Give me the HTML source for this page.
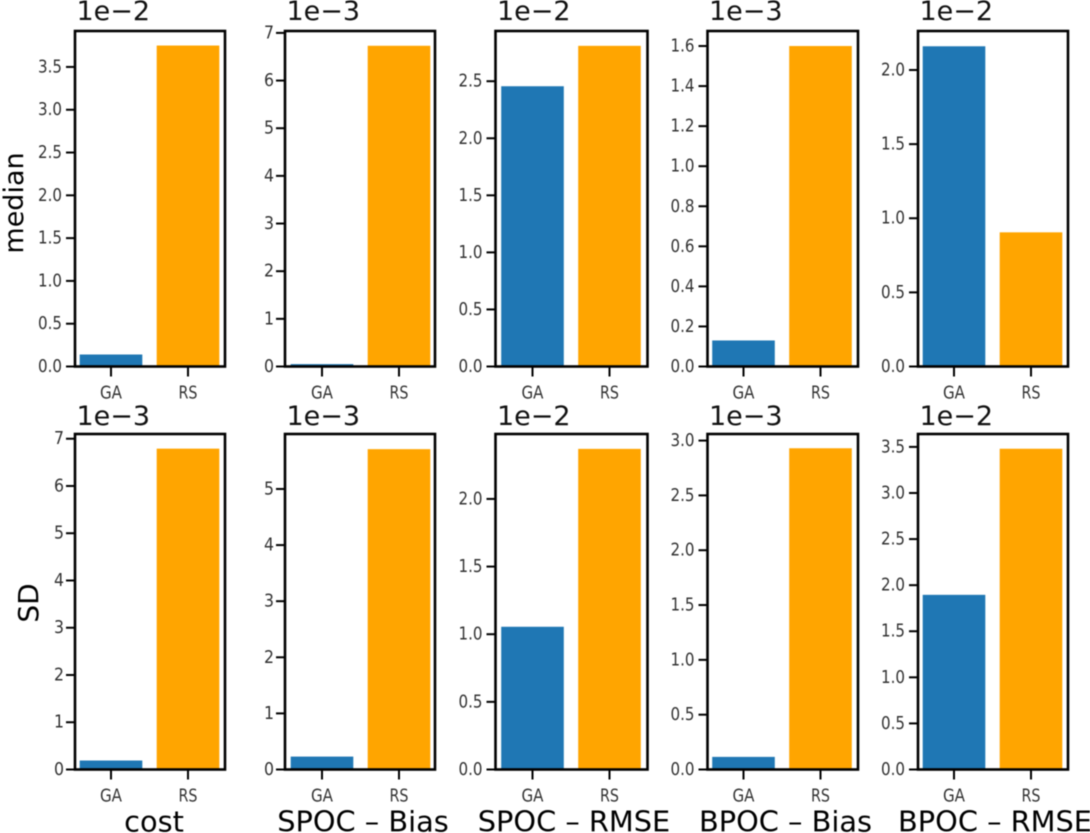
<!DOCTYPE html>
<html>
<head>
<meta charset="utf-8">
<style>
html,body{margin:0;padding:0;background:#fff;width:1090px;height:833px;overflow:hidden}
svg{display:block;filter:blur(0.4px)}
text{font-family:"DejaVu Sans","Liberation Sans",sans-serif}
</style>
</head>
<body>
<svg id="chart" width="1090" height="833" viewBox="0 0 1090 833" xmlns="http://www.w3.org/2000/svg"></svg>
<script>
const metrics = ["cost", "SPOC – Bias", "SPOC – RMSE", "BPOC – Bias", "BPOC – RMSE"];
const rowLabels = ["median", "SD"];
const categories = ["GA", "RS"];
const medianGA = [0.14, 0.05, 2.456, 0.13, 2.16];
const medianRS = [3.75, 6.73, 2.81, 1.60, 0.905];
const sdGA = [0.19, 0.23, 1.055, 0.115, 1.895];
const sdRS = [6.79, 5.71, 2.37, 2.93, 3.48];
const medianMax = [3.92, 7.04, 2.94, 1.675, 2.263];
const sdMax = [7.10, 5.98, 2.48, 3.06, 3.64];
const medianExp = ["1e−2", "1e−3", "1e−2", "1e−3", "1e−2"];
const sdExp = ["1e−3", "1e−3", "1e−2", "1e−3", "1e−2"];
const medianTicks = [
  ["0.0","0.5","1.0","1.5","2.0","2.5","3.0","3.5"],
  ["0","1","2","3","4","5","6","7"],
  ["0.0","0.5","1.0","1.5","2.0","2.5"],
  ["0.0","0.2","0.4","0.6","0.8","1.0","1.2","1.4","1.6"],
  ["0.0","0.5","1.0","1.5","2.0"]
];
const sdTicks = [
  ["0","1","2","3","4","5","6","7"],
  ["0","1","2","3","4","5"],
  ["0.0","0.5","1.0","1.5","2.0"],
  ["0.0","0.5","1.0","1.5","2.0","2.5","3.0"],
  ["0.0","0.5","1.0","1.5","2.0","2.5","3.0","3.5"]
];

const colLeft = [75, 285, 495.5, 707.5, 918];
const colRight = [225, 435, 647.5, 858, 1068];
const gaCenter = [111, 322, 532.5, 743.5, 954];
const columnTitleX = [154, 363, 574, 785.5, 995];
const rowTop = [31, 434];
const rowBottom = [366.5, 769.5];
const titleBaseline = [20, 425];
const colors = ["#1f77b4", "#ffa500"];
const svg = document.getElementById("chart");
const NS = "http://www.w3.org/2000/svg";

function make(tag, parent, attrs, txt) {
  const el = document.createElementNS(NS, tag);
  for (const k in attrs) el.setAttribute(k, attrs[k]);
  if (txt !== undefined) el.textContent = txt;
  parent.appendChild(el);
  return el;
}
function xScale(col, i) { return gaCenter[col] + i * 77; }
function yScale(row, max, v) {
  return rowBottom[row] - (v / max) * (rowBottom[row] - rowTop[row]);
}

const rowsData = [
  { ga: medianGA, rs: medianRS, max: medianMax, exp: medianExp, ticks: medianTicks },
  { ga: sdGA, rs: sdRS, max: sdMax, exp: sdExp, ticks: sdTicks }
];

rowsData.forEach(function (d, r) {
  metrics.forEach(function (m, c) {
    const g = make("g", svg, {});
    
    
    const max = d.max[c];
    const vals = [d.ga[c], d.rs[c]];

    vals.forEach(function (v, i) {
      const top = yScale(r, max, v);
      const bar = make("rect", g, {
        x: xScale(c, i) - 31.3, y: top, width: 62.6,
        height: rowBottom[r] - top, fill: colors[i]
      });
      
      
    });

    const frame = make("rect", g, {
      x: colLeft[c], y: rowTop[r], width: colRight[c] - colLeft[c],
      height: rowBottom[r] - rowTop[r], fill: "none",
      stroke: "#000", "stroke-width": 2.6
    });
    
    

    d.ticks[c].forEach(function (label) {
      const y = yScale(r, max, parseFloat(label));
      const tick = make("line", g, {
        x1: colLeft[c] - 9, x2: colLeft[c], y1: y, y2: y,
        stroke: "#000", "stroke-width": 2
      });
      
      
      const t = make("text", g, {
        x: colLeft[c] - (label.length > 1 ? 13 : 11), y: y + 5.5, "text-anchor": "end",
        "font-size": 18, fill: "#333", textLength: label.length > 1 ? 24 : 10,
        lengthAdjust: "spacingAndGlyphs"
      }, label);
      
      
    });

    categories.forEach(function (cat, i) {
      const x = xScale(c, i);
      const tick = make("line", g, {
        x1: x, x2: x, y1: rowBottom[r], y2: rowBottom[r] + 10,
        stroke: "#000", "stroke-width": 2
      });
      
      
      const t = make("text", g, {
        x: x, y: rowBottom[r] + 32, "text-anchor": "middle",
        "font-size": 18, fill: "#333", textLength: i === 0 ? 22 : 19,
        lengthAdjust: "spacingAndGlyphs"
      }, cat);
      
      
    });

    const offset = make("text", g, {
      x: colLeft[c] + 1.5, y: titleBaseline[r], "font-size": 27, fill: "#111"
    }, d.exp[c]);
    
    
  });
});

metrics.forEach(function (m, c) {
  const t = make("text", svg, {
    x: columnTitleX[c], y: 831.5, "text-anchor": "middle", "font-size": 28.8, fill: "#000"
  }, m);
  
  
});

const rowLabelX = [23, 38];
const rowLabelY = [203, 603];
const rowLabelSize = [27, 28];
rowLabels.forEach(function (lab, r) {
  const t = make("text", svg, {
    x: rowLabelX[r], y: rowLabelY[r], "text-anchor": "middle", "font-size": rowLabelSize[r], fill: "#000",
    transform: "rotate(-90 " + rowLabelX[r] + " " + rowLabelY[r] + ")"
  }, lab);
  
  
});
</script>
</body>
</html>
